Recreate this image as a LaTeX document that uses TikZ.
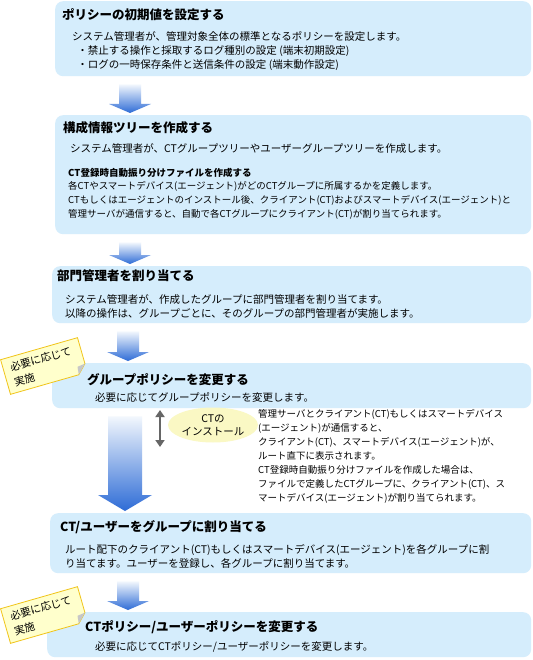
\documentclass[tikz,border=0pt]{standalone}
\usepackage{fontspec}
\setmainfont{Noto Sans CJK JP}
\usetikzlibrary{arrows.meta,positioning,shapes.geometric,calc}
\definecolor{boxfill}{HTML}{D5EDFC}
\definecolor{arrtop}{HTML}{F2F7FD}
\definecolor{arrbot}{HTML}{2E6CD6}
\definecolor{notefill}{HTML}{FFFFCC}
\definecolor{noteline}{HTML}{F0C419}
\definecolor{instfill}{HTML}{FAF8C4}

% block arrow: from, to, centre x, shaft half width, head half width, head length
\newcommand{\flowarr}[6]{%
  \shade[top color=arrtop,bottom color=arrbot] let \p1=(#1.south), \p2=(#2.north) in
    (#3pt-#4pt,\y1-8pt) -- (#3pt+#4pt,\y1-8pt) -- (#3pt+#4pt,\y2+2pt+#6pt) -- (#3pt+#5pt,\y2+2pt+#6pt)
    -- (#3pt,\y2+2pt) -- (#3pt-#5pt,\y2+2pt+#6pt) -- (#3pt-#4pt,\y2+2pt+#6pt) -- cycle;}
% sticky note: name, x, y
\newcommand{\stickynote}[3]{%
  \begin{scope}[shift={(#2,#3)},rotate=16]
    \draw[fill=notefill,draw=noteline,line width=0.8pt] (-40,-18) -- (40,-18) -- (40,9) -- (31,18) -- (-40,18) -- cycle;
    \fill[black!22] (40,9) -- (31,18) -- (32,10) -- cycle;
    \node[notetxt,transform shape] (#1) at (-33,0) {必要に応じて\\実施};
  \end{scope}}

\begin{document}
\begin{tikzpicture}[x=1pt,y=-1pt,
  stepbox/.style={fill=boxfill,rounded corners=8pt,anchor=north west,inner sep=0pt},
  ttl/.style={anchor=west,inner sep=0pt,font=\fontsize{12.5}{15}\selectfont\bfseries},
  body/.style={anchor=base west,inner sep=0pt,align=left,font=\fontsize{10.5}{14}\selectfont},
  small/.style={anchor=base west,inner sep=0pt,align=left,font=\fontsize{9.5}{14}\selectfont},
  notetxt/.style={anchor=west,inner sep=0pt,align=left,font=\fontsize{10.5}{15}\selectfont},
  inst/.style={ellipse,fill=instfill,minimum width=90pt,minimum height=35pt,inner sep=0pt,align=center,font=\fontsize{10.5}{13}\selectfont},
  dbl/.style={{Triangle[width=9pt,length=7pt]}-{Triangle[width=9pt,length=7pt]},line width=2.6pt,color=black!60}]
\fill[white] (0,0) rectangle (532,660);
\useasboundingbox (0,0) rectangle (532,660);
% step boxes
\node[stepbox,minimum width=476pt,minimum height=75pt] (b1) at (55,1) {};
\node[stepbox,minimum width=476pt,minimum height=119pt] (b2) at (55,115) {};
\node[stepbox,minimum width=479pt,minimum height=57pt] (b3) at (52,266) {};
\node[stepbox,minimum width=479pt,minimum height=45pt] (b4) at (52,363) {};
\node[stepbox,minimum width=481pt,minimum height=60pt] (b5) at (50,513) {};
\node[stepbox,minimum width=484pt,minimum height=45pt] (b6) at (47,612) {};
% arrows between steps
\flowarr{b1}{b2}{130}{11}{21}{9}
\flowarr{b2}{b3}{130}{11}{21}{9}
\flowarr{b3}{b4}{128}{11}{21}{9}
\flowarr{b4}{b5}{125}{17}{27}{16}
\flowarr{b5}{b6}{128}{11}{21}{9}
% step 1 (multi-line texts sit on their last baseline)
\node[ttl] (t1) at (62,15) {ポリシーの初期値を設定する};
\node[body] (d1) at (72,69) {システム管理者が、管理対象全体の標準となるポリシーを設定します。\\\hspace*{0.5em}・禁止する操作と採取するログ種別の設定 (端末初期設定)\\\hspace*{0.5em}・ログの一時保存条件と送信条件の設定 (端末動作設定)};
% step 2
\node[ttl] (t2) at (63,128) {構成情報ツリーを作成する};
\node[body] (d2) at (70,153) {システム管理者が、CTグループツリーやユーザーグループツリーを作成します。};
\node[small,font=\fontsize{9.5}{14}\selectfont\bfseries] (s2) at (68,176.5) {CT登録時自動振り分けファイルを作成する};
\node[small] (d2b) at (68,217.5) {各CTやスマートデバイス(エージェント)がどのCTグループに所属するかを定義します。\\CTもしくはエージェントのインストール後、クライアント(CT)およびスマートデバイス(エージェント)と\\管理サーバが通信すると、自動で各CTグループにクライアント(CT)が割り当てられます。};
% step 3
\node[ttl] (t3) at (57,276) {部門管理者を割り当てる};
\node[body] (d3) at (65,317) {システム管理者が、作成したグループに部門管理者を割り当てます。\\以降の操作は、グループごとに、そのグループの部門管理者が実施します。};
% step 4
\node[ttl] (t4) at (87,380) {グループポリシーを変更する};
\node[body] (d4) at (95,401) {必要に応じてグループポリシーを変更します。};
\stickynote{n1}{44}{366}
% installation
\coordinate (i1) at (160,410);
\coordinate (i2) at (160,447);
\draw[dbl] (i1) -- (i2);
\node[inst] (inst) at (213,425) {CTの\\インストール};
\node[small] (desc) at (258,501.5) {管理サーバとクライアント(CT)もしくはスマートデバイス\\(エージェント)が通信すると、\\クライアント(CT)、スマートデバイス(エージェント)が、\\ルート直下に表示されます。\\CT登録時自動振り分けファイルを作成した場合は、\\ファイルで定義したCTグループに、クライアント(CT)、ス\\マートデバイス(エージェント)が割り当てられます。};
% step 5
\node[ttl] (t5) at (60,527) {CT/ユーザーをグループに割り当てる};
\node[body] (d5) at (65,567) {ルート配下のクライアント(CT)もしくはスマートデバイス(エージェント)を各グループに割\\り当てます。ユーザーを登録し、各グループに割り当てます。};
% step 6
\node[ttl] (t6) at (85,627) {CTポリシー/ユーザーポリシーを変更する};
\node[body] (d6) at (95,650) {必要に応じてCTポリシー/ユーザーポリシーを変更します。};
\stickynote{n2}{44}{615}
\end{tikzpicture}
\end{document}
